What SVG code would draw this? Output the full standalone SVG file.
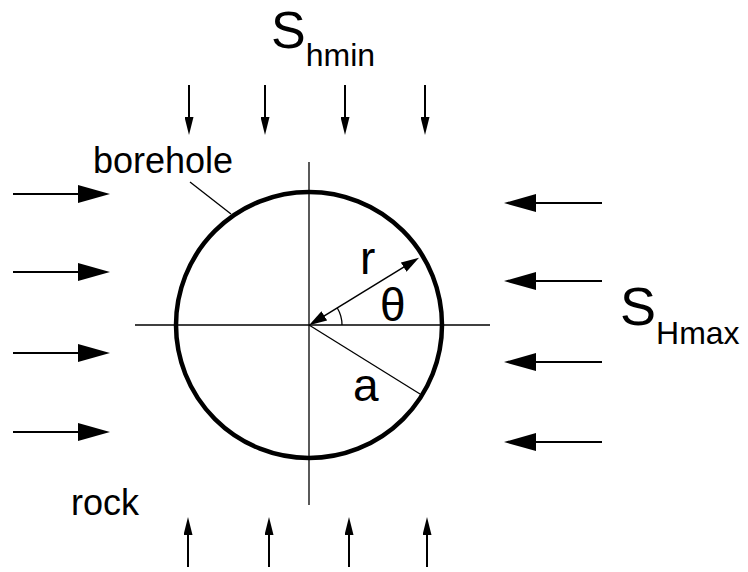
<svg xmlns="http://www.w3.org/2000/svg" width="748" height="572" viewBox="0 0 748 572">
  <style>
    .lbl { font-family: "Liberation Sans", Arial, Helvetica, sans-serif; fill: #000; }
    .big { stroke: #000; stroke-width: 2; fill: none; marker-end: url(#headBig); }
    .small { stroke: #000; stroke-width: 2; fill: none; marker-end: url(#headSmall); }
    .thin { stroke: #000; stroke-width: 1.3; fill: none; }
  </style>
  <defs>
    <marker id="headBig" markerUnits="userSpaceOnUse" viewBox="0 0 32 18" markerWidth="32" markerHeight="18" refX="22" refY="9" orient="auto">
      <path d="M0,0 L32,9 L0,18 Z" fill="#000"/>
    </marker>
    <marker id="headSmall" markerUnits="userSpaceOnUse" viewBox="0 0 18 9" markerWidth="18" markerHeight="9" refX="10" refY="4.5" orient="auto">
      <path d="M0,0 L18,4.5 L0,9 Z" fill="#000"/>
    </marker>
    <marker id="headR" markerUnits="userSpaceOnUse" viewBox="0 0 18 11" markerWidth="18" markerHeight="11" refX="12" refY="5.5" orient="auto-start-reverse">
      <path d="M0,0 L18,5.5 L0,11 Z" fill="#000"/>
    </marker>
  </defs>
  <rect width="748" height="572" fill="#fff"/>

  <g id="axes">
    <line class="thin" x1="135" y1="325" x2="490" y2="325"/>
    <line class="thin" x1="309" y1="162" x2="309" y2="505"/>
  </g>

  <g id="borehole">
    <circle cx="309" cy="325" r="133" fill="none" stroke="#000" stroke-width="4.5"/>
  </g>

  <g id="connectors">
    <!-- S_Hmax from left -->
    <line class="big" x1="13" y1="194" x2="100" y2="194"/>
    <line class="big" x1="13" y1="272" x2="100" y2="272"/>
    <line class="big" x1="13" y1="353" x2="100" y2="353"/>
    <line class="big" x1="13" y1="432" x2="100" y2="432"/>
    <!-- S_Hmax from right -->
    <line class="big" x1="602" y1="203" x2="514" y2="203"/>
    <line class="big" x1="602" y1="281" x2="514" y2="281"/>
    <line class="big" x1="602" y1="362" x2="514" y2="362"/>
    <line class="big" x1="602" y1="442" x2="514" y2="442"/>
    <!-- S_hmin from top -->
    <line class="small" x1="189" y1="85" x2="189" y2="127"/>
    <line class="small" x1="265" y1="85" x2="265" y2="127"/>
    <line class="small" x1="345" y1="85" x2="345" y2="127"/>
    <line class="small" x1="425" y1="85" x2="425" y2="127"/>
    <!-- S_hmin from bottom -->
    <line class="small" x1="188" y1="567" x2="188" y2="525"/>
    <line class="small" x1="269" y1="567" x2="269" y2="525"/>
    <line class="small" x1="349" y1="567" x2="349" y2="525"/>
    <line class="small" x1="427" y1="567" x2="427" y2="525"/>
    <!-- radius r (double-headed) -->
    <line x1="314.1" y1="322.1" x2="413.9" y2="260.9" stroke="#000" stroke-width="1.5" marker-start="url(#headR)" marker-end="url(#headR)"/>
    <!-- radius a -->
    <line class="thin" x1="309" y1="325" x2="420" y2="394"/>
    <!-- angle theta arc -->
    <path class="thin" d="M342,325 A33,33 0 0 0 337.3,308"/>
    <!-- borehole leader -->
    <line class="thin" x1="190" y1="182" x2="231" y2="214" stroke-width="1.5"/>
  </g>

  <g id="labels">
    <text class="lbl" x="271" y="48" font-size="52">S<tspan font-size="32" dy="18">hmin</tspan></text>
    <text class="lbl" x="620" y="325" font-size="54">S<tspan font-size="32" dy="19">Hmax</tspan></text>
    <text class="lbl" x="93" y="173" font-size="36">borehole</text>
    <text class="lbl" x="71" y="515" font-size="36">rock</text>
    <text class="lbl" x="360" y="274" font-size="46">r</text>
    <text class="lbl" x="380" y="321" font-size="46">θ</text>
    <text class="lbl" x="353" y="401" font-size="46">a</text>
  </g>
</svg>
